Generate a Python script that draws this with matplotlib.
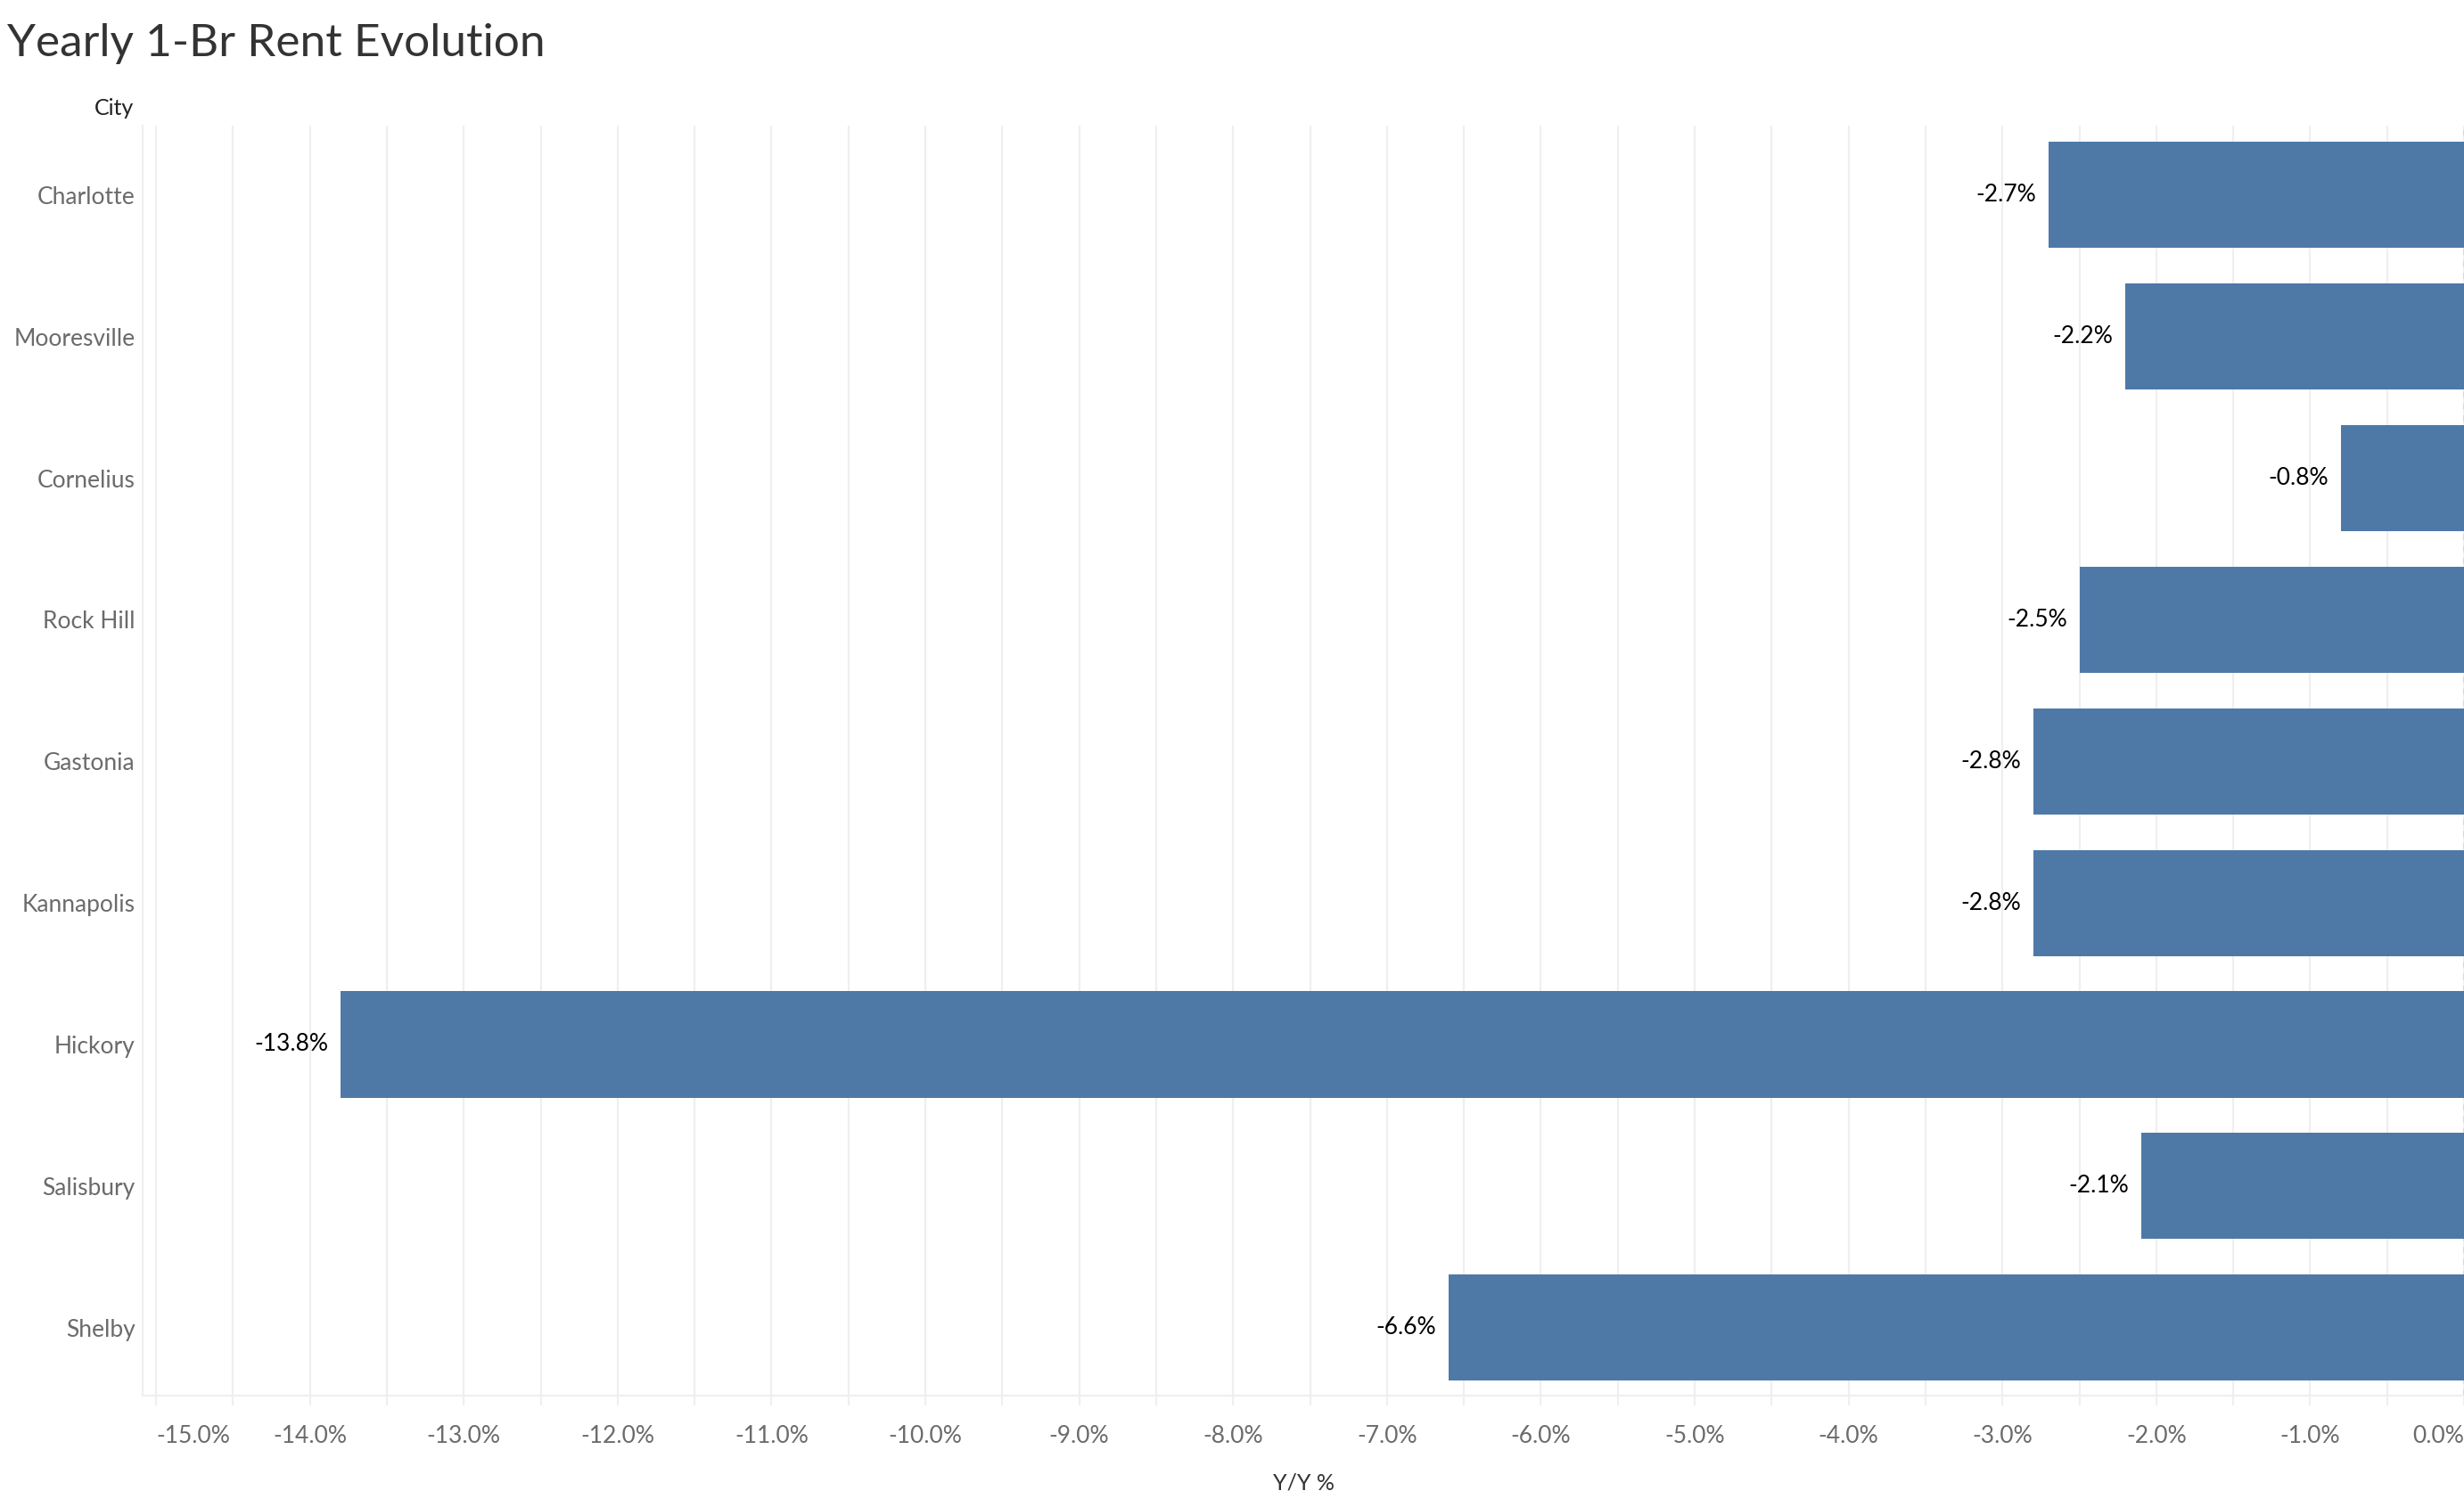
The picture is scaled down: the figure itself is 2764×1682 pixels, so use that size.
import matplotlib
matplotlib.use("Agg")
import matplotlib.pyplot as plt
import numpy as np

# data
cities = ["Charlotte", "Mooresville", "Cornelius", "Rock Hill", "Gastonia",
          "Kannapolis", "Hickory", "Salisbury", "Shelby"]
yoy_pct = [-2.7, -2.2, -0.8, -2.5, -2.8, -2.8, -13.8, -2.1, -6.6]
x_ticks = np.arange(-15, 0.5, 1.0)

plt.rcParams['font.family'] = ['Lato', 'DejaVu Sans']

fig = plt.figure(figsize=(13.82, 8.41), dpi=200)
ax = fig.add_axes([0.0579, 0.069, 0.9421, 0.8472])

bar_color = "#4e79a7"
grid_color = "#efefef"

y = np.arange(len(cities))
ax.barh(y, yoy_pct, height=0.75, color=bar_color, zorder=2)

# value labels left of each bar
for yi, v in zip(y, yoy_pct):
    ax.text(v - 0.08, yi, f"{v:.1f}%", ha="right", va="center",
            fontsize=9.5, color="black", zorder=3)

ax.set_xlim(-15.087, 0.0)
ax.set_ylim(8.48, -0.49)

ax.set_yticks(y)
ax.set_yticklabels(cities, fontsize=9.5, color="#6b6b6b")
ax.tick_params(axis="y", length=0, pad=3)

ax.set_xticks(x_ticks)
ax.set_xticks(np.arange(-15, 0.01, 0.5), minor=True)
labels = [f"{t:.1f}%" for t in x_ticks]
ax.set_xticklabels(labels, fontsize=9.5, color="#6b6b6b")
ax.tick_params(axis="x", which="both", length=4, width=0.8, color=grid_color, pad=8)
ax.get_xticklabels()[0].set_ha("left")
ax.get_xticklabels()[-1].set_ha("right")

ax.grid(True, axis="x", which="both", color=grid_color, linewidth=0.8, zorder=0)
ax.set_axisbelow(True)

for side in ["top", "right"]:
    ax.spines[side].set_visible(False)
ax.spines["left"].set_color(grid_color)
ax.spines["bottom"].set_color(grid_color)
ax.spines["left"].set_linewidth(0.8)
ax.spines["bottom"].set_linewidth(0.8)
ax.axvline(0, color="#d9d9d9", linewidth=0.8, linestyle=(0, (3, 3)), zorder=1)

ax.set_xlabel("Y/Y %", fontsize=9, color="#333333", labelpad=10)

fig.text(0.003, 0.971, "Yearly 1-Br Rent Evolution", fontsize=18.5,
         color="#333333", ha="left", va="center")
fig.text(0.0542, 0.928, "City", fontsize=9, color="#222222",
         ha="right", va="center")

fig.savefig("out.png", dpi=200, facecolor="white")
